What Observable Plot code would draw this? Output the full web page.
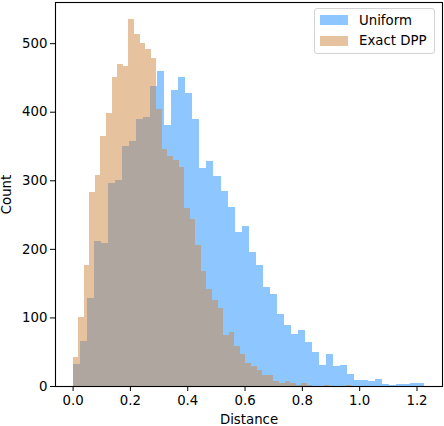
<!DOCTYPE html>
<html>
<head>
<meta charset="utf-8">
<script src="https://cdn.jsdelivr.net/npm/d3@7"></script>
<script src="https://cdn.jsdelivr.net/npm/@observablehq/plot@0.6"></script>
<style>
  body { margin: 0; background: #fff; font-family: "DejaVu Sans", sans-serif; }
  #wrap { position: relative; width: 444px; height: 426px; }
  .legend { position: absolute; left: 314px; top: 8px; width: 121px; height: 46px;
            border: 1px solid #d3d3d3; border-radius: 3px; background: rgba(255,255,255,0.8);
            box-sizing: border-box; }
  .item { position: absolute; left: 5px; height: 10px; display: flex; align-items: center;
          font-size: 13.3px; color: #000; white-space: nowrap; }
  .sw { width: 28px; height: 10px; margin-right: 11px; }
</style>
</head>
<body>
<div id="wrap"></div>
<script>
// Series labels
const seriesNames = ["Uniform", "Exact DPP"];
const seriesColors = ["dodgerblue", "peru"];

// Histogram counts (50 bins each)
const uniformCounts = [32, 66, 128, 211, 208, 296, 300, 350, 357, 389,
  392, 438, 460, 380, 431, 451, 427, 389, 318, 328,
  306, 284, 261, 224, 234, 195, 176, 144, 134, 105,
  89, 76, 82, 64, 50, 31, 47, 29, 31, 17,
  9, 9, 7, 10, 3, 2, 3, 3, 4, 4];
const dppCounts = [42, 100, 176, 283, 307, 364, 398, 451, 470, 467,
  535, 514, 500, 492, 478, 404, 345, 336, 329, 320,
  260, 243, 205, 167, 141, 125, 114, 74, 79, 58,
  47, 33, 29, 23, 16, 16, 7, 4, 7, 4,
  2, 4, 1, 0, 0, 1, 0, 0, 0, 1];

// Bin layout
const uniformBinStart = 0.001, uniformBinWidth = 0.02453;
const dppBinStart = 0.0, dppBinWidth = 0.01946;

// Axis ticks
const xTicks = [0, 0.2, 0.4, 0.6, 0.8, 1.0, 1.2];
const yTicks = [0, 100, 200, 300, 400, 500];

const toRows = (counts, start, w) => counts.map((c, i) => ({x1: start + i * w, x2: start + (i + 1) * w, y: c}));
const uniformRows = toRows(uniformCounts, uniformBinStart, uniformBinWidth);
const dppRows = toRows(dppCounts, dppBinStart, dppBinWidth);

const chart = Plot.plot({
  width: 444, height: 426,
  marginLeft: 55, marginRight: 2, marginTop: 2, marginBottom: 40,
  style: {fontFamily: "DejaVu Sans", fontSize: "13.3px", background: "white", color: "black"},
  x: {domain: [-0.0614, 1.289], ticks: xTicks, tickFormat: d => d.toFixed(1),
      label: "Distance", labelAnchor: "center", labelArrow: "none", labelOffset: 37.5, tickSize: 5, tickPadding: 4},
  y: {domain: [0, 560], ticks: yTicks, tickFormat: d => String(d),
      label: "Count", labelAnchor: "center", labelArrow: "none", labelOffset: 54, tickSize: 5, tickPadding: 3},
  marks: [
    Plot.rect(uniformRows, {x1: "x1", x2: "x2", y1: 0, y2: "y", fill: seriesColors[0], fillOpacity: 0.5, shapeRendering: "crispEdges"}),
    Plot.rect(dppRows, {x1: "x1", x2: "x2", y1: 0, y2: "y", fill: seriesColors[1], fillOpacity: 0.5, shapeRendering: "crispEdges"}),
    Plot.frame({stroke: "black", strokeWidth: 1.1})
  ]
});
const wrap = document.getElementById("wrap");
wrap.appendChild(chart);

const legend = document.createElement("div");
legend.className = "legend";
seriesNames.forEach((name, i) => {
  const item = document.createElement("div");
  item.className = "item";
  item.style.top = (6 + i * 20.7) + "px";
  const sw = document.createElement("div");
  sw.className = "sw";
  sw.style.background = seriesColors[i];
  sw.style.opacity = 0.5;
  const t = document.createElement("span");
  t.textContent = name;
  item.appendChild(sw);
  item.appendChild(t);
  legend.appendChild(item);
});
wrap.appendChild(legend);
</script>
</body>
</html>
